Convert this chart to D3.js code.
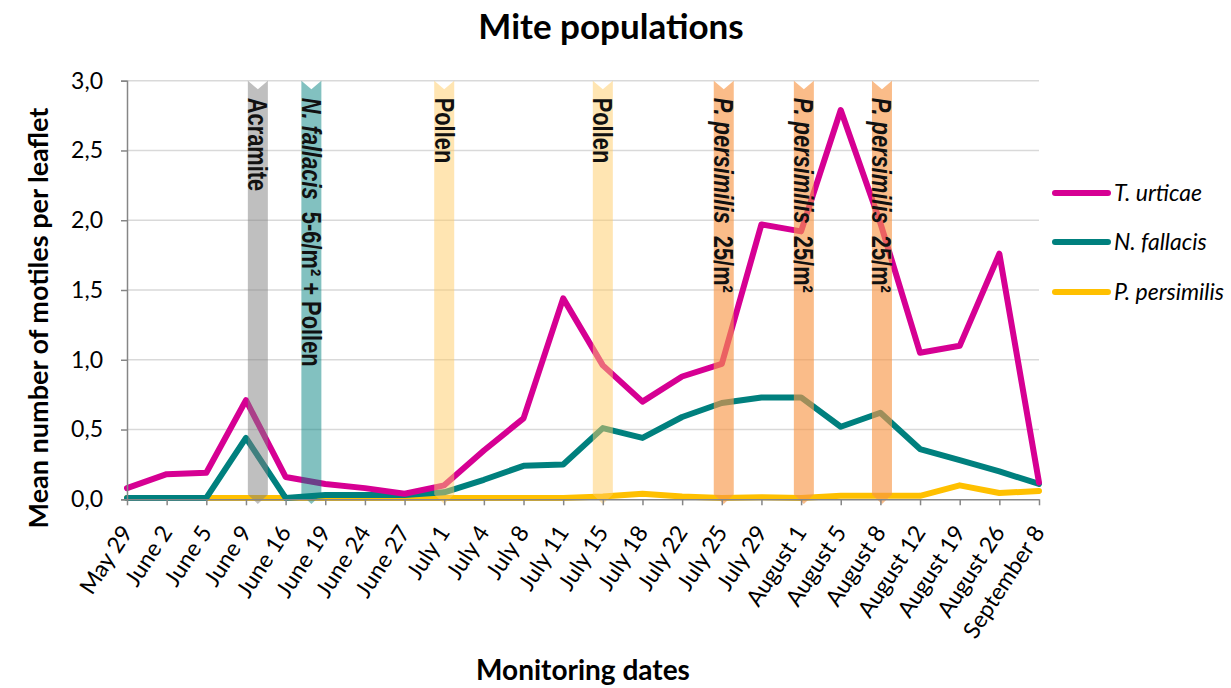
<!DOCTYPE html>
<html>
<head>
<meta charset="utf-8">
<script src="https://cdn.jsdelivr.net/npm/d3@7"></script>
<style>
  body { margin: 0; background: #fff; }
  text { font-family: Lato, "Open Sans", sans-serif; }
</style>
</head>
<body>
<svg id="chart" width="1231" height="688"></svg>
<script>
const dates = ["May 29", "June 2", "June 5", "June 9", "June 16", "June 19", "June 24", "June 27",
  "July 1", "July 4", "July 8", "July 11", "July 15", "July 18", "July 22", "July 25", "July 29",
  "August 1", "August 5", "August 8", "August 12", "August 19", "August 26", "September 8"];

const tUrticae = [0.08, 0.18, 0.19, 0.71, 0.16, 0.11, 0.08, 0.04, 0.10, 0.35, 0.58, 1.44,
  0.96, 0.70, 0.88, 0.97, 1.97, 1.92, 2.79, 1.98, 1.05, 1.10, 1.76, 0.12];
const nFallacis = [0.01, 0.01, 0.01, 0.44, 0.01, 0.03, 0.03, 0.03, 0.05, 0.14, 0.24, 0.25,
  0.51, 0.44, 0.59, 0.69, 0.73, 0.73, 0.52, 0.62, 0.36, 0.28, 0.20, 0.11];
const pPersimilis = [0.01, 0.01, 0.01, 0.01, 0.01, 0.01, 0.01, 0.01, 0.01, 0.01, 0.01, 0.01,
  0.02, 0.04, 0.02, 0.01, 0.015, 0.01, 0.025, 0.025, 0.025, 0.10, 0.045, 0.06];

const seriesNames = ["T. urticae", "N. fallacis", "P. persimilis"];
const seriesColors = ["#d60093", "#00807e", "#ffc000"];

const yTicks = [0, 0.5, 1, 1.5, 2, 2.5, 3];

// release events: position is in category index units
const eventPos = [3.3, 4.65, 8, 12, 15.05, 17.07, 19.04];
const eventLabels = [
  [["Acramite", false]],
  [["N. fallacis", true], ["  5-6/m² + Pollen", false]],
  [["Pollen", false]],
  [["Pollen", false]],
  [["P. persimilis", true], ["  25/m²", false]],
  [["P. persimilis", true], ["  25/m²", false]],
  [["P. persimilis", true], ["  25/m²", false]]
];
const eventColors = ["#808080", "#00807e", "#ffcc66", "#ffcc66", "#f79646", "#f79646", "#f79646"];
const eventOpacity = [0.5, 0.49, 0.5, 0.5, 0.64, 0.64, 0.64];

const svg = d3.select("#chart");
const plotLeft = 127, plotRight = 1039, plotTop = 80.7, plotBottom = 499.3;

const x = d3.scalePoint().domain(dates).range([plotLeft, plotRight]);
const xi = d3.scaleLinear().domain([0, dates.length - 1]).range([plotLeft, plotRight]);
const y = d3.scaleLinear().domain([0, 3]).range([plotBottom, plotTop]);

// gridlines
svg.append("g")
  .selectAll("line")
  .data(yTicks.slice(1))
  .enter().append("line")
  .attr("x1", plotLeft).attr("x2", plotRight)
  .attr("y1", d => y(d)).attr("y2", d => y(d))
  .style("stroke", "#d9d9d9")
  .style("stroke-width", 1.5);

// series lines
const series = [tUrticae, nFallacis, pPersimilis];
const line = d3.line()
  .x((d, i) => x(dates[i]))
  .y(d => y(d));

// draw yellow first so magenta sits on top
[2, 1, 0].forEach(k => {
  svg.append("path")
    .datum(series[k])
    .attr("d", line)
    .style("fill", "none")
    .style("stroke", seriesColors[k])
    .style("stroke-width", 6)
    .style("stroke-linejoin", "round")
    .style("stroke-linecap", "round");
});

// event bands (chevron arrows)
const halfW = 10, notch = 8.6, bandEnd = y(0) - 4.8, tip = 9.5;
const bands = svg.append("g");
eventPos.forEach((p, i) => {
  const cx = xi(p);
  const pts = [
    [cx - halfW, y(3)], [cx, y(3) + notch], [cx + halfW, y(3)],
    [cx + halfW, bandEnd], [cx, bandEnd + tip], [cx - halfW, bandEnd]
  ];
  bands.append("path")
    .attr("d", "M" + pts.map(q => q.join(",")).join("L") + "Z")
    .style("fill", eventColors[i])
    .style("fill-opacity", eventOpacity[i]);

  const t = bands.append("text")
    .attr("transform", `translate(${cx},${y(3) + 17}) rotate(90) scale(0.81,1)`)
    .attr("dy", 9.5)
    .style("font-family", "'Liberation Sans', Arial, sans-serif")
    .style("font-weight", "bold")
    .style("font-size", "27px")
    .style("white-space", "pre")
    .style("fill", "#111");
  eventLabels[i].forEach(part => {
    t.append("tspan")
      .text(part[0])
      .style("font-style", part[1] ? "italic" : "normal");
  });
});

// axes
const yAxis = d3.axisLeft(y).tickValues(yTicks).tickSize(6)
  .tickFormat(d => d3.format(".1f")(d).replace(".", ","));
const gy = svg.append("g").attr("transform", `translate(${plotLeft},0)`).call(yAxis);
gy.select(".domain").style("stroke", "#868686").style("stroke-width", 1.5);
gy.selectAll(".tick line").style("stroke", "#868686").style("stroke-width", 1.5);
gy.selectAll(".tick text")
  .attr("x", -24)
  .style("font-family", "Lato, sans-serif")
  .style("font-size", "23px")
  .style("fill", "#000");

const xAxis = d3.axisBottom(x).tickSize(6).tickSizeOuter(0);
const gx = svg.append("g").attr("transform", `translate(0,${plotBottom})`).call(xAxis);
gx.select(".domain").style("stroke", "#868686").style("stroke-width", 1.5);
gx.selectAll(".tick line").style("stroke", "#868686").style("stroke-width", 1.5);
gx.selectAll(".tick text")
  .attr("y", 0).attr("dy", 0)
  .attr("transform", "translate(6,33) rotate(-57)")
  .style("text-anchor", "end")
  .style("font-family", "Lato, sans-serif")
  .style("font-size", "23px")
  .style("fill", "#000");

// titles
svg.append("text")
  .attr("x", 611).attr("y", 39)
  .attr("text-anchor", "middle")
  .style("font-weight", "bold")
  .style("font-size", "35px")
  .text("Mite populations");

svg.append("text")
  .attr("transform", "translate(48,318) rotate(-90)")
  .attr("text-anchor", "middle")
  .style("font-weight", "bold")
  .style("font-size", "27px")
  .text("Mean number of motiles per leaflet");

svg.append("text")
  .attr("x", 583).attr("y", 680)
  .attr("text-anchor", "middle")
  .style("font-weight", "bold")
  .style("font-size", "28px")
  .text("Monitoring dates");

// legend
const legendY = [193, 242, 292];
const legend = svg.append("g");
seriesNames.forEach((name, i) => {
  legend.append("line")
    .attr("x1", 1055).attr("x2", 1108)
    .attr("y1", legendY[i]).attr("y2", legendY[i])
    .style("stroke", seriesColors[i])
    .style("stroke-width", 6)
    .style("stroke-linecap", "round");
  legend.append("text")
    .attr("x", 1114).attr("y", legendY[i] + 8)
    .style("font-style", "italic")
    .style("font-size", "23px")
    .text(name);
});
</script>
</body>
</html>
